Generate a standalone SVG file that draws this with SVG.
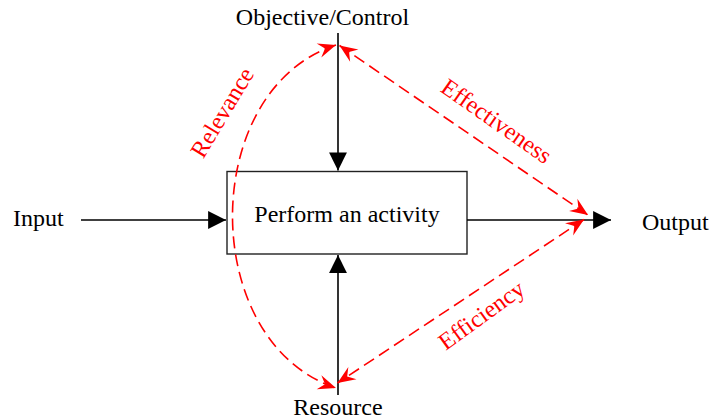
<svg xmlns="http://www.w3.org/2000/svg" width="712" height="419" viewBox="0 0 712 419">
<style>
text{font-family:"Liberation Serif","Times New Roman",serif;font-size:24px;fill:#000}
.red{fill:#ff0000}
.blk{stroke:#000;stroke-width:1.6;fill:none}
.dash{stroke:#ff0000;stroke-width:1.6;fill:none;stroke-dasharray:12,6}
</style>
<defs>
<marker id="bh" markerUnits="userSpaceOnUse" markerWidth="20" markerHeight="20" viewBox="-18 -9 19 18" refX="0" refY="0" orient="auto">
<path d="M0,0 L-17,-8.5 L-17,8.5 z" fill="#000"/>
</marker>
<marker id="rh" markerUnits="userSpaceOnUse" markerWidth="20" markerHeight="20" viewBox="-18 -9 19 18" refX="0" refY="0" orient="auto-start-reverse">
<path d="M0,0 L-17,-7 L-11,0 L-17,7 z" fill="#ff0000"/>
</marker>
</defs>
<g id="box">
<rect x="227" y="171.5" width="240" height="82.5" fill="#fff" stroke="#222" stroke-width="1.4"/>
<text x="347" y="222" text-anchor="middle">Perform an activity</text>
</g>
<g id="input"><text x="13" y="226">Input</text></g>
<g id="output"><text x="642" y="230">Output</text></g>
<g id="objective"><text x="322.5" y="25" text-anchor="middle">Objective/Control</text></g>
<g id="resource"><text x="338" y="415" text-anchor="middle">Resource</text></g>
<g id="connectors">
<line class="blk" x1="81" y1="220" x2="226" y2="220" marker-end="url(#bh)"/>
<line class="blk" x1="467" y1="220" x2="611" y2="220" marker-end="url(#bh)"/>
<line class="blk" x1="338" y1="33" x2="338" y2="170.5" marker-end="url(#bh)"/>
<line class="blk" x1="338" y1="395" x2="338" y2="255" marker-end="url(#bh)"/>
<path class="dash" d="M336,45 C198,90 198,342 336,388" marker-start="url(#rh)" marker-end="url(#rh)"/>
<line class="dash" x1="339.5" y1="45.5" x2="588" y2="215" marker-start="url(#rh)" marker-end="url(#rh)"/>
<line class="dash" x1="584" y1="219.5" x2="337.5" y2="383" marker-start="url(#rh)" marker-end="url(#rh)"/>
</g>
<g id="labels">
<text class="red" transform="translate(223,113) rotate(-59)" x="0" y="7" text-anchor="middle">Relevance</text>
<text class="red" transform="translate(496,122) rotate(35)" x="0" y="7" text-anchor="middle">Effectiveness</text>
<text class="red" transform="translate(482,316) rotate(-36)" x="0" y="7" text-anchor="middle">Efficiency</text>
</g>
</svg>
